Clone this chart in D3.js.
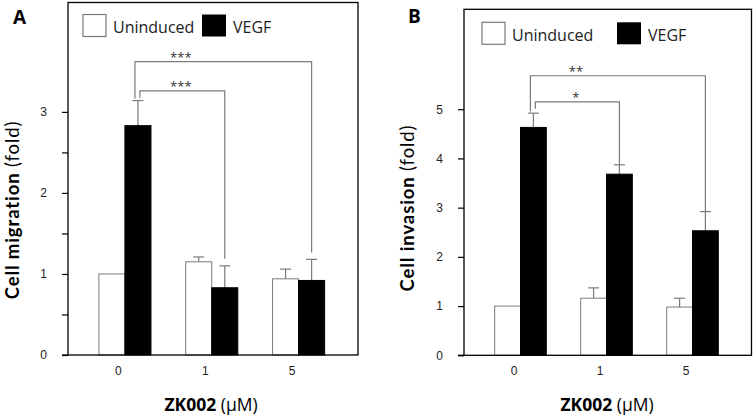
<!DOCTYPE html>
<html>
<head>
<meta charset="utf-8">
<script src="https://cdn.jsdelivr.net/npm/d3@7"></script>
<style>
  body { margin: 0; background: #fff; }
  svg { display: block; font-family: "Open Sans", sans-serif; }
  .tick text { font-size: 12px; fill: #222; }
  .tick line { stroke: #000; stroke-width: 1.2; }
</style>
</head>
<body>
<svg id="chart" width="754" height="415"></svg>
<script>
// data
var doses = ["0", "1", "5"];
var groups = ["Uninduced", "VEGF"];

var migrationUninduced    = [1.00, 1.15, 0.94];
var migrationUninducedErr = [0.00, 0.06, 0.12];
var migrationVegf         = [2.83, 0.83, 0.92];
var migrationVegfErr      = [0.31, 0.27, 0.26];
var migrationTicks      = [0, 1, 2, 3];
var migrationMinorTicks = [0.5, 1.5, 2.5];
var migrationStars = [
  { to: "5", label: "***", level: 3.62 },
  { to: "1", label: "***", level: 3.26 }
];

var invasionUninduced    = [1.00, 1.16, 0.98];
var invasionUninducedErr = [0.00, 0.21, 0.18];
var invasionVegf         = [4.63, 3.68, 2.53];
var invasionVegfErr      = [0.29, 0.19, 0.39];
var invasionTicks      = [0, 1, 2, 3, 4, 5];
var invasionMinorTicks = [];
var invasionStars = [
  { to: "5", label: "**", level: 5.68 },
  { to: "1", label: "*",  level: 5.15 }
];

var svg = d3.select('#chart');
var grey = '#7a7a7a';

function drawPanel(p) {
  var g = svg.append('g');

  var x = d3.scaleBand()
      .domain(doses)
      .range([p.left + 13.5, p.right - 16]);
  var xSub = d3.scaleBand()
      .domain(groups)
      .range([0, x.bandwidth()])
      .paddingOuter(0.667);
  var y = d3.scaleLinear()
      .domain([0, p.yMax])
      .range([p.bottom, p.top]);

  // bars: one row per dose and group
  var rows = [];
  doses.forEach(function(d, i) {
    rows.push({ dose: d, group: "Uninduced", v: p.uninduced[i], e: p.uninducedErr[i] });
    rows.push({ dose: d, group: "VEGF", v: p.vegf[i], e: p.vegfErr[i] });
  });

  // error bars first so the bar outline sits on top
  var errs = g.selectAll('.err').data(rows.filter(function(r) { return r.e > 0; }))
    .enter().append('g').attr('class', 'err');
  errs.append('line')
      .attr('x1', function(r) { return x(r.dose) + xSub(r.group) + xSub.bandwidth() / 2; })
      .attr('x2', function(r) { return x(r.dose) + xSub(r.group) + xSub.bandwidth() / 2; })
      .attr('y1', function(r) { return y(r.v); })
      .attr('y2', function(r) { return y(r.v + r.e); })
      .attr('stroke', grey).attr('stroke-width', 1.2);
  errs.append('line')
      .attr('x1', function(r) { return x(r.dose) + xSub(r.group) + xSub.bandwidth() / 2 - 5.5; })
      .attr('x2', function(r) { return x(r.dose) + xSub(r.group) + xSub.bandwidth() / 2 + 5.5; })
      .attr('y1', function(r) { return y(r.v + r.e); })
      .attr('y2', function(r) { return y(r.v + r.e); })
      .attr('stroke', grey).attr('stroke-width', 1.2);

  g.selectAll('.bar').data(rows).enter().append('rect')
      .attr('class', 'bar')
      .attr('x', function(r) { return x(r.dose) + xSub(r.group); })
      .attr('y', function(r) { return y(r.v); })
      .attr('width', xSub.bandwidth())
      .attr('height', function(r) { return y(0) - y(r.v); })
      .attr('fill', function(r) { return r.group === "VEGF" ? '#000' : '#fff'; })
      .attr('stroke', function(r) { return r.group === "VEGF" ? '#000' : grey; })
      .attr('stroke-width', 1);

  // significance brackets from VEGF at dose 0
  var vegfMid = function(d) { return x(d) + xSub("VEGF") + xSub.bandwidth() / 2; };
  var capTop = function(d) {
    var i = doses.indexOf(d);
    return y(p.vegf[i] + p.vegfErr[i]);
  };
  p.stars.forEach(function(s, k) {
    var x0 = vegfMid("0") + (k === 0 ? -3 : 2);
    var x1 = vegfMid(s.to);
    var yl = y(s.level);
    var yLeft = k === 0 ? capTop("0") - 2 : yl + 7;
    g.append('path')
        .attr('d', 'M' + x0 + ',' + yLeft + 'V' + yl + 'H' + x1 + 'V' + (capTop(s.to) - p.gap))
        .attr('fill', 'none').attr('stroke', grey).attr('stroke-width', 1.2);
    g.append('text')
        .attr('x', (vegfMid("0") + vegfMid("1")) / 2 - 0.5)
        .attr('y', yl + 0.5)
        .attr('text-anchor', 'middle')
        .attr('font-size', 13)
        .attr('fill', '#333')
        .text(s.label);
  });

  // frame
  g.append('rect')
      .attr('x', p.left).attr('y', p.top)
      .attr('width', p.right - p.left).attr('height', p.bottom - p.top)
      .attr('fill', 'none').attr('stroke', '#000').attr('stroke-width', 1.3);
  g.append('line')
      .attr('x1', p.left - 6).attr('x2', p.left)
      .attr('y1', p.bottom).attr('y2', p.bottom)
      .attr('stroke', '#000').attr('stroke-width', 1.3);

  // y axis
  var yAxis = d3.axisLeft(y).tickValues(p.ticks).tickSize(6).tickPadding(15).tickFormat(d3.format('d'));
  g.append('g')
      .attr('transform', 'translate(' + p.left + ',0)')
      .call(yAxis)
      .call(function(a) { a.select('.domain').remove(); });
  g.append('g')
      .attr('transform', 'translate(' + p.left + ',0)')
      .call(d3.axisLeft(y).tickValues(p.minor).tickSize(6).tickFormat(''))
      .call(function(a) { a.select('.domain').remove(); });

  // x axis, labels only
  g.append('g')
      .attr('transform', 'translate(0,' + p.bottom + ')')
      .call(d3.axisBottom(x).tickSize(0).tickPadding(11))
      .call(function(a) { a.select('.domain').remove(); })
      .call(function(a) { a.selectAll('.tick text').attr('dx', -6.5); });

  // axis titles
  var yt = g.append('text')
      .attr('transform', 'translate(' + p.yTitleX + ',' + p.yTitleY + ') rotate(-90)')
      .attr('text-anchor', 'middle')
      .attr('font-family', 'Lato, sans-serif')
      .attr('font-size', 18.5)
      .attr('letter-spacing', 0.9);
  yt.append('tspan').attr('font-weight', 'bold').text(p.yTitle + ' ');
  yt.append('tspan').text('(fold)');

  var xt = g.append('text')
      .attr('x', p.xTitleX).attr('y', 410.5)
      .attr('text-anchor', 'middle')
      .attr('font-size', 17.5);
  xt.append('tspan').attr('font-weight', 'bold').text('ZK002 ');
  xt.append('tspan').text('(\u03bcM)');

  // legend
  var leg = g.append('g');
  leg.append('rect')
      .attr('x', p.legX).attr('y', p.legY).attr('width', 23).attr('height', 22)
      .attr('fill', '#fff').attr('stroke', grey).attr('stroke-width', 1.2);
  leg.append('text')
      .attr('x', p.legX + 30).attr('y', p.legY + 18.5)
      .attr('font-size', 16).attr('fill', '#222').text(groups[0]);
  leg.append('rect')
      .attr('x', p.legX2).attr('y', p.legY).attr('width', 24).attr('height', 22)
      .attr('fill', '#000');
  leg.append('text')
      .attr('x', p.legX2 + 31).attr('y', p.legY + 18.5)
      .attr('font-size', 16).attr('fill', '#222').text(groups[1]);

  g.append('text')
      .attr('x', p.labelX).attr('y', p.labelY)
      .attr('font-size', 19).attr('font-weight', 'bold')
      .text(p.label);
}

drawPanel({
  label: 'A', labelX: 13, labelY: 24,
  left: 68, right: 358, top: 2.5, bottom: 355, yMax: 4.35,
  uninduced: migrationUninduced, uninducedErr: migrationUninducedErr,
  vegf: migrationVegf, vegfErr: migrationVegfErr,
  ticks: migrationTicks, minor: migrationMinorTicks,
  stars: migrationStars, gap: 7,
  yTitle: 'Cell migration', yTitleX: 18.5, yTitleY: 210,
  xTitleX: 211,
  legX: 83, legX2: 202, legY: 14.5
});

drawPanel({
  label: 'B', labelX: 408, labelY: 23,
  left: 464, right: 751.5, top: 9.3, bottom: 355.3, yMax: 7.03,
  uninduced: invasionUninduced, uninducedErr: invasionUninducedErr,
  vegf: invasionVegf, vegfErr: invasionVegfErr,
  ticks: invasionTicks, minor: invasionMinorTicks,
  stars: invasionStars, gap: 0,
  yTitle: 'Cell invasion', yTitleX: 413.5, yTitleY: 208,
  xTitleX: 607,
  legX: 482, legX2: 617, legY: 22.3
});
</script>
</body>
</html>
